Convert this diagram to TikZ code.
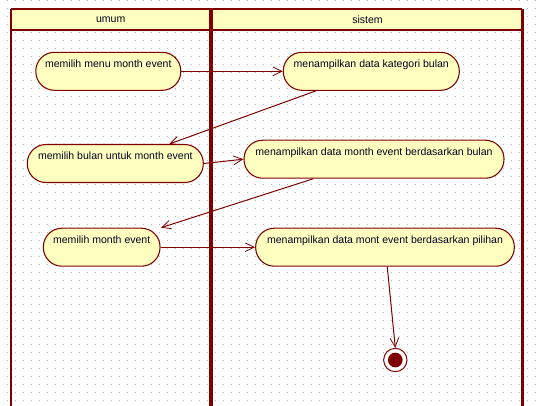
\documentclass[tikz,border=0pt]{standalone}
\usepackage{fontspec}
\setmainfont{Liberation Sans}
\usetikzlibrary{arrows.meta}
\definecolor{lane}{HTML}{800000}
\definecolor{actfill}{HTML}{FFFFC0}
\definecolor{griddot}{HTML}{B4B4B4}
\definecolor{inktext}{HTML}{000020}
\begin{document}
\begin{tikzpicture}[x=0.75pt,y=-0.75pt,
  font=\fontsize{7.9}{9}\selectfont,
  activity/.style={draw=lane, fill=actfill, line width=0.8pt, rounded corners=14pt,
    minimum height=28.5pt, inner ysep=0pt, inner xsep=0pt,
    text height=11.2pt, text depth=17.3pt, text=inktext},
  flow/.style={draw=lane, line width=0.75pt,
    -{Straight Barb[length=6.75pt,width=6.5pt,line width=0.6pt]}},
  lanetitle/.style={text=inktext, inner sep=0pt},
]
\useasboundingbox (0,0) rectangle (543,405);

% dotted background grid
\foreach \k in {0,...,50}
  \draw[griddot, line width=0.75pt, dash pattern=on 0.75pt off 5.25pt]
    (7,{0.5+8*\k}) -- (543,{0.5+8*\k});

% swimlane header and lane borders
\fill[actfill] (11.3,8.5) rectangle (522.3,29.5);
\draw[lane, line width=1.5pt] (11.3,8.5) -- (522.3,8.5);
\draw[lane, line width=1.5pt] (11.3,29.5) -- (522.3,29.5);
\draw[lane, line width=1.5pt] (11.3,8.5) -- (11.3,406);
\draw[lane, line width=3pt] (210.5,8.5) -- (210.5,406);
\draw[lane, line width=1.8pt] (522.3,8.5) -- (522.3,406);
\node[lanetitle] (laneUmum) at (110.7,20) {umum};
\node[lanetitle] (laneSistem) at (367.5,20) {sistem};

% activities
\node[activity, minimum width=108.75pt] (n1) at (108.3,71.3) {memilih menu month event};
\node[activity, minimum width=132pt] (n3) at (371.3,71.3) {menampilkan data kategori bulan};
\node[activity, minimum width=132pt] (n2) at (115.3,163.5) {memilih bulan untuk month event};
\node[activity, minimum width=195pt] (n4) at (374,159.2) {menampilkan data month event berdasarkan bulan};
\node[activity, minimum width=87.5pt] (n5) at (101.7,247.2) {memilih month event};
\node[activity, minimum width=194pt] (n6) at (385,247.2) {menampilkan data mont event berdasarkan pilihan};

% final state
\node[circle, draw=lane, fill=white, line width=0.75pt, minimum size=17.5pt, inner sep=0pt] (end) at (395.3,360) {};
\node[circle, fill=lane, minimum size=11pt, inner sep=0pt] (endDot) at (end.center) {};

% transitions
\draw[flow] (n1.east) -- (n3.west);
\draw[flow] ([xshift=-41.5pt]n3.south) -- ([xshift=40.5pt]n2.north);
\draw[flow] (n2.east) -- (n4.west);
\draw[flow] ([xshift=-45.5pt]n4.south) -- ([xshift=44.5pt]n5.north);
\draw[flow] (n5.east) -- (n6.west);
\draw[flow] ([xshift=1.7pt]n6.south) -- (end.north);
\end{tikzpicture}
\end{document}
